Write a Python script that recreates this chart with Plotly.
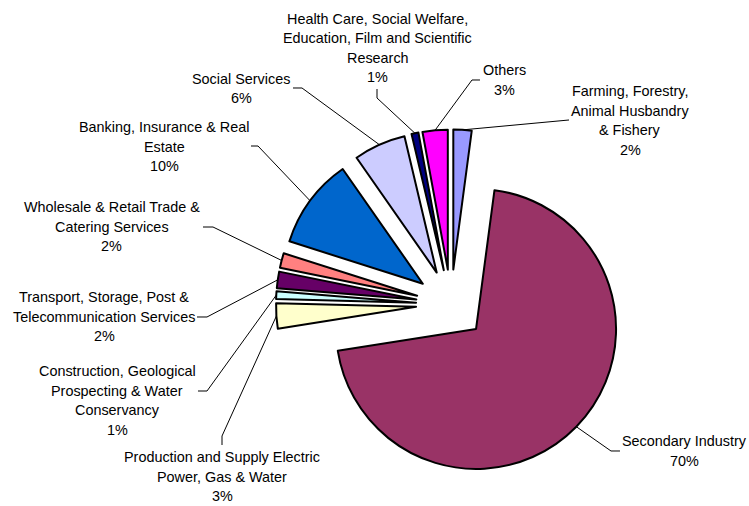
import math
import plotly.graph_objects as go

# ---------------- data ----------------
categories = [
    "Farming, Forestry,<br>Animal Husbandry<br>& Fishery",
    "Secondary Industry",
    "Production and Supply Electric<br>Power, Gas & Water",
    "Construction, Geological<br>Prospecting & Water<br>Conservancy",
    "Transport, Storage, Post &<br>Telecommunication Services",
    "Wholesale & Retail Trade &<br>Catering Services",
    "Banking, Insurance & Real<br>Estate",
    "Social Services",
    "Health Care, Social Welfare,<br>Education, Film and Scientific<br>Research",
    "Others",
]
values = [2.1, 70.4, 2.9, 0.9, 1.9, 1.7, 10.4, 6.0, 0.8, 2.9]
colors = ["#9999FF", "#993366", "#FFFFCC", "#CCFFFF", "#660066",
          "#FF8080", "#0066CC", "#CCCCFF", "#000080", "#FF00FF"]

# label layout (pixel positions of first text line centre)
label_pos = [(630, 91), (684, 441), (222, 457), (117, 371), (104, 297),
             (112, 207), (164, 127), (241.5, 78.5), (378, 18.5), (504, 70.5)]
# leader line elbows (pixels) from slice edge towards label
leader_pts = [
    [(569, 120)],
    [(611, 451), (620, 451)],
    [(222, 436), (222, 445)],
    [(207, 391), (198, 391)],
    [(207, 317), (197, 317)],
    [(213, 227), (203, 227)],
    [(258, 146), (251, 146)],
    [(302, 88), (293, 88)],
    [(377, 98), (377, 89)],
    [(472, 80), (480, 80)],
]

W, H = 749, 506
CX, CY = 451, 304.5
PULL = 0.25
BOX = 350  # domain size in px -> radius = BOX / (2 + 2*PULL)
R = BOX / (2 + 2 * PULL)
LINE_H = 19.6
FONT = dict(family="Liberation Sans, Arial, sans-serif", size=14.4, color="#000000")


def px(x):
    return x / W


def py(y):
    return 1 - y / H


fig = go.Figure(go.Pie(
    labels=[c.replace("<br>", " ") for c in categories],
    values=values,
    sort=False,
    direction="clockwise",
    rotation=0,
    pull=[PULL] * len(values),
    marker=dict(colors=colors, line=dict(color="#000000", width=2)),
    textinfo="none",
    hoverinfo="label+percent",
    domain=dict(x=[px(CX - BOX / 2), px(CX + BOX / 2)],
                y=[py(CY + BOX / 2), py(CY - BOX / 2)]),
    showlegend=False,
))

total = sum(values)
annotations = []
shapes = []
cum = 0.0
for i, v in enumerate(values):
    mid = (cum + v / 2) / total * 2 * math.pi
    cum += v
    ux, uy = math.sin(mid), -math.cos(mid)
    ex = CX + (PULL * R + R) * ux
    ey = CY + (PULL * R + R) * uy
    pts = [(ex, ey)] + leader_pts[i]
    path = "M " + " L ".join(f"{px(x):.5f},{py(y):.5f}" for x, y in pts)
    shapes.append(dict(type="path", path=path, xref="paper", yref="paper",
                       line=dict(color="#000000", width=1)))
    lines = categories[i].split("<br>") + [f"{round(100 * v / total)}%"]
    lx, ly = label_pos[i]
    for j, t in enumerate(lines):
        annotations.append(dict(
            text=t, x=px(lx), y=py(ly + j * LINE_H), xref="paper", yref="paper",
            xanchor="center", yanchor="middle", showarrow=False, font=FONT))

fig.update_layout(
    width=W, height=H, autosize=False,
    margin=dict(l=0, r=0, t=0, b=0),
    paper_bgcolor="#FFFFFF", plot_bgcolor="#FFFFFF",
    annotations=annotations, shapes=shapes,
)

fig.write_html("out.html")
